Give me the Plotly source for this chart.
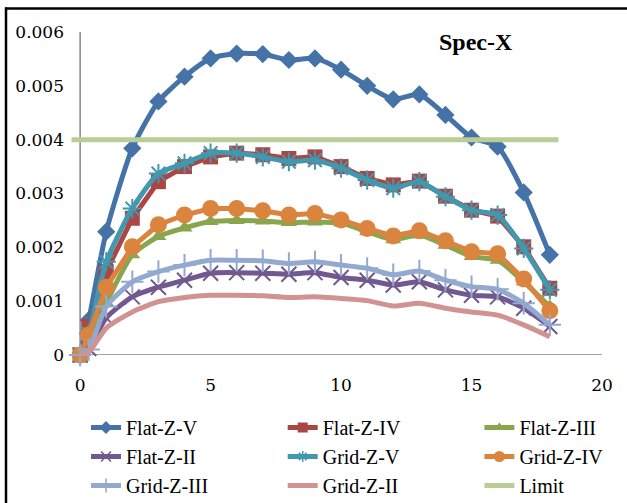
import plotly.graph_objects as go

x_vals = [0, 0.33, 1, 2, 3, 4, 5, 6, 7, 8, 9, 10, 11, 12, 13, 14, 15, 16, 17, 18]

flat_z_v = [0, 0.00065, 0.00229, 0.00384, 0.00471, 0.00517, 0.00551, 0.0056, 0.00559, 0.00548,
            0.00551, 0.0053, 0.0050, 0.00475, 0.00484, 0.00446, 0.00404, 0.00387, 0.00302, 0.00186]
flat_z_iv = [0, 0.00053, 0.00155, 0.00254, 0.00322, 0.0035, 0.00368, 0.00375, 0.00372, 0.00365,
             0.00368, 0.0035, 0.00328, 0.00316, 0.00323, 0.00295, 0.00269, 0.00258, 0.00201, 0.00124]
flat_z_iii = [0, 0.0003, 0.00097, 0.00186, 0.0022, 0.00236, 0.00248, 0.0025, 0.00249, 0.00246,
              0.00247, 0.00245, 0.00229, 0.00214, 0.00223, 0.00204, 0.00183, 0.00176, 0.00136, 0.0009]
flat_z_ii = [0, 0.00012, 0.00069, 0.00108, 0.00126, 0.00139, 0.00152, 0.00153, 0.00152, 0.0015,
             0.00153, 0.00144, 0.00139, 0.0013, 0.00136, 0.00121, 0.00111, 0.00108, 0.00087, 0.00053]
grid_z_v = [0, 0.0004, 0.00173, 0.00272, 0.00337, 0.00356, 0.00375, 0.00375, 0.00368, 0.00359,
            0.00362, 0.00347, 0.00325, 0.0031, 0.00322, 0.00294, 0.00269, 0.0026, 0.00198, 0.00121]
grid_z_iv = [0, 0.00037, 0.00126, 0.00201, 0.00242, 0.0026, 0.00272, 0.00272, 0.00268, 0.0026,
             0.00263, 0.00251, 0.00235, 0.00221, 0.00231, 0.00212, 0.00192, 0.00188, 0.00141, 0.00082]
grid_z_iii = [0, 0.0001, 0.0009, 0.00136, 0.00155, 0.00167, 0.00176, 0.00176, 0.00175, 0.0017,
              0.00173, 0.00167, 0.00161, 0.00149, 0.00156, 0.00139, 0.00127, 0.00122, 0.00096, 0.00056]
grid_z_ii = [0, 0.00005, 0.0005, 0.0008, 0.00099, 0.00107, 0.00111, 0.00111, 0.0011, 0.00107,
             0.00108, 0.00105, 0.00101, 0.00091, 0.00096, 0.00087, 0.0008, 0.00074, 0.00056, 0.00034]
limit_x = [-0.33, 18.33]
limit_y = [0.004, 0.004]

y_ticks = [0, 0.001, 0.002, 0.003, 0.004, 0.005, 0.006]
y_tick_text = ["0", "0.001", "0.002", "0.003", "0.004", "0.005", "0.006"]
x_ticks = [0, 5, 10, 15, 20]
x_tick_text = ["0", "5", "10", "15", "20"]

series = [
    # name, y, color, symbol, size, legend-size, shape, legend
    ("Flat-Z-V", flat_z_v, "#4572A7", "diamond", 14, 10, "spline", "legend"),
    ("Flat-Z-IV", flat_z_iv, "#AA4643", "square", 15, 10, "linear", "legend2"),
    ("Flat-Z-III", flat_z_iii, "#89A54E", "triangle-up", 14, 10, "spline", "legend3"),
    ("Flat-Z-II", flat_z_ii, "#71588F", "x-thin-open", 15, 10, "spline", "legend"),
    ("Grid-Z-V", grid_z_v, "#4198AF", "asterisk-open", 16, 9, "spline", "legend2"),
    ("Grid-Z-IV", grid_z_iv, "#DB843D", "circle", 17, 11, "linear", "legend3"),
    ("Grid-Z-III", grid_z_iii, "#93A9CF", "cross-thin-open", 16, 10, "spline", "legend"),
    ("Grid-Z-II", grid_z_ii, "#D19392", None, 0, 0, "spline", "legend2"),
]

fig = go.Figure()
for name, yv, color, symbol, size, lsize, shape, leg in series:
    line = dict(color=color, width=5, shape=shape, smoothing=0.6)
    if symbol is None:
        fig.add_trace(go.Scatter(x=x_vals, y=yv, name=name, mode="lines", line=line,
                                 legend=leg, legendgroup=name))
    else:
        thin = symbol.endswith("-open")
        fig.add_trace(go.Scatter(
            x=x_vals, y=yv, name=name, mode="lines+markers", line=line,
            marker=dict(symbol=symbol, size=size, color=color,
                        line=dict(color=color, width=2 if thin else 0)),
            cliponaxis=False, showlegend=False, legendgroup=name))
        # legend entry with smaller marker (no data drawn)
        fig.add_trace(go.Scatter(
            x=[None], y=[None], name=name, mode="lines+markers", line=line,
            marker=dict(symbol=symbol, size=lsize, color=color,
                        line=dict(color=color, width=1.5 if thin else 0)),
            legend=leg, legendgroup=name))

fig.add_trace(go.Scatter(
    x=limit_x, y=limit_y, name="Limit", mode="lines",
    line=dict(color="#B9CD96", width=5), legend="legend3", legendgroup="Limit"))

L, R, T, B = 71, 25, 32, 148
W = 627 - L - R
H = 503 - T - B


def px_x(p):
    return (p - L) / W


def px_y(p):
    return (503 - B - p) / H


leg_font = dict(family="Liberation Serif", size=20, color="black")
leg_common = dict(orientation="v", font=leg_font, tracegroupgap=0, bgcolor="rgba(0,0,0,0)",
                  xanchor="left", yanchor="top", y=px_y(408), itemclick=False)

fig.update_layout(
    width=627, height=503,
    margin=dict(l=L, r=R, t=T, b=B, autoexpand=False),
    paper_bgcolor="white", plot_bgcolor="white",
    showlegend=True,
    legend=dict(x=px_x(86), **leg_common),
    legend2=dict(x=px_x(282.7), **leg_common),
    legend3=dict(x=px_x(479.4), **leg_common),
    xaxis=dict(range=[-0.35, 20], tickvals=x_ticks, ticktext=x_tick_text,
               showgrid=False, zeroline=False, showline=False, ticks="",
               ticklabelstandoff=18,
               tickfont=dict(family="DejaVu Serif", size=17, color="black")),
    yaxis=dict(range=[0, 0.006], tickvals=y_ticks, ticktext=y_tick_text,
               showgrid=False, zeroline=False, showline=False, ticks="",
               ticklabelstandoff=6,
               tickfont=dict(family="DejaVu Serif", size=17, color="black")),
    annotations=[dict(text="<b>Spec-X</b>", x=px_x(476), y=px_y(42), xref="paper", yref="paper",
                      showarrow=False, xanchor="center", yanchor="middle",
                      font=dict(family="Liberation Serif", size=24, color="black"))],
    shapes=[
        dict(type="line", xref="x", yref="y", x0=0, x1=20, y0=0, y1=0,
             line=dict(color="#868686", width=1.5), layer="below"),
        dict(type="line", xref="x", yref="y", x0=0, x1=0, y0=0, y1=0.006,
             line=dict(color="#868686", width=1.5), layer="below"),
        dict(type="line", xref="paper", yref="paper", x0=px_x(5), x1=px_x(628), y0=px_y(8.5), y1=px_y(8.5),
             line=dict(color="black", width=2.5)),
        dict(type="line", xref="paper", yref="paper", x0=px_x(6), x1=px_x(6), y0=px_y(7.5), y1=px_y(504),
             line=dict(color="black", width=2.5)),
    ],
)

fig.write_html("out.html")
